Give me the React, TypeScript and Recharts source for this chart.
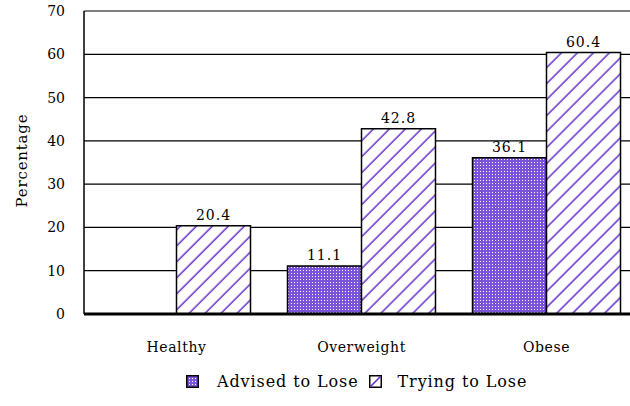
import React from 'react';
import { BarChart, Bar, XAxis, YAxis, CartesianGrid, Legend, LabelList } from 'recharts';

const categories = ['Healthy', 'Overweight', 'Obese'];
const advisedToLose: (number | null)[] = [null, 11.1, 36.1];
const tryingToLose: (number | null)[] = [20.4, 42.8, 60.4];
const yTicks = [0, 10, 20, 30, 40, 50, 60, 70];
const seriesNames = ['Advised to Lose', 'Trying to Lose'];
const yAxisTitle = 'Percentage';

const data = categories.map((c, i) => ({ category: c, advised: advisedToLose[i], trying: tryingToLose[i] }));

const FONT = '"DejaVu Serif", serif';
const PURPLE = '#7c54dc';
const LINE_PURPLE = '#5c2cc8';

const DotIcon = () => (
  <svg width={13} height={13} style={{ display: 'block' }}>
    <defs>
      <pattern id="advisedDotsIcon" patternUnits="userSpaceOnUse" width="3" height="3">
        <rect x="0" y="0" width="3" height="3" fill={PURPLE} />
        <rect x="0" y="0" width="1" height="1" fill="#ffffff" />
      </pattern>
    </defs>
    <rect x={0.75} y={0.75} width={11.5} height={11.5} fill="url(#advisedDotsIcon)" stroke="#000" strokeWidth={1.5} />
  </svg>
);

const DiagIcon = () => (
  <svg width={13} height={13} style={{ display: 'block' }}>
    <rect x={0.75} y={0.75} width={11.5} height={11.5} fill="#fff" stroke="#000" strokeWidth={1.5} />
    <line x1={1.5} y1={11.5} x2={11.5} y2={1.5} stroke={LINE_PURPLE} strokeWidth={1.6} />
  </svg>
);

const LegendContent = () => (
  <div
    style={{
      display: 'flex',
      alignItems: 'center',
      height: 34,
      paddingLeft: 186,
      fontFamily: FONT,
      fontSize: 16,
      letterSpacing: 0.9,
      color: '#000',
      whiteSpace: 'nowrap',
    }}
  >
    <DotIcon />
    <span style={{ marginLeft: 18 }}>{seriesNames[0]}</span>
    <span style={{ marginLeft: 10 }}><DiagIcon /></span>
    <span style={{ marginLeft: 16 }}>{seriesNames[1]}</span>
  </div>
);

const YTitle = (props: any) => {
  const vb = props.viewBox || { x: 0, y: 0, width: 0, height: 0 };
  const cx = vb.x + 22;
  const cy = vb.y + vb.height / 2 - 2;
  return (
    <text
      x={cx}
      y={cy}
      transform={`rotate(-90, ${cx}, ${cy})`}
      textAnchor="middle"
      dominantBaseline="central"
      fontFamily={FONT}
      fontSize={15}
      letterSpacing={0.8}
      fill="#000"
    >
      {yAxisTitle}
    </text>
  );
};

export default function App() {
  return (
    <div style={{ position: 'absolute', left: 0, top: 0, width: 630, height: 406, overflow: 'hidden', background: '#fff' }}>
      <BarChart
        width={660}
        height={406}
        data={data}
        margin={{ top: 11, right: 21, bottom: 8, left: 0 }}
        barGap={0}
        barCategoryGap="10%"
      >
        <defs>
          <pattern id="advisedDotsFill" patternUnits="userSpaceOnUse" width="3" height="3">
            <rect x="0" y="0" width="3" height="3" fill={PURPLE} />
            <rect x="0" y="0" width="1" height="1" fill="#ffffff" />
          </pattern>
          <pattern id="tryingDiagFill" patternUnits="userSpaceOnUse" width="11.3" height="11.3" patternTransform="rotate(45)">
            <rect width="11.3" height="11.3" fill="#fff" />
            <line x1="5" y1="0" x2="5" y2="11.3" stroke={LINE_PURPLE} strokeWidth="1.5" />
          </pattern>
        </defs>
        <CartesianGrid horizontal vertical={false} stroke="#000" strokeWidth={1.2} />
        <XAxis
          dataKey="category"
          height={50}
          tickLine={false}
          tickSize={0}
          tickMargin={28}
          axisLine={{ stroke: '#000', strokeWidth: 3 }}
          tick={{ fill: '#000', fontFamily: FONT, fontSize: 14, letterSpacing: 0.6 }}
        />
        <YAxis
          width={84}
          domain={[0, 70]}
          ticks={yTicks}
          interval={0}
          tickLine={false}
          tickSize={0}
          tickMargin={19}
          axisLine={{ stroke: '#000', strokeWidth: 1.5 }}
          tick={{ fill: '#000', fontFamily: FONT, fontSize: 14 }}
          label={{ content: YTitle }}
        />
        <Legend verticalAlign="bottom" content={LegendContent} />
        <Bar dataKey="advised" name={seriesNames[0]} fill="url(#advisedDotsFill)" stroke="#000" strokeWidth={1.5} isAnimationActive={false}>
          <LabelList dataKey="advised" position="top" offset={6} fill="#000" fontFamily={FONT} fontSize={14} letterSpacing={1} />
        </Bar>
        <Bar dataKey="trying" name={seriesNames[1]} fill="url(#tryingDiagFill)" stroke="#000" strokeWidth={1.5} isAnimationActive={false}>
          <LabelList dataKey="trying" position="top" offset={6} fill="#000" fontFamily={FONT} fontSize={14} letterSpacing={1} />
        </Bar>
      </BarChart>
    </div>
  );
}
